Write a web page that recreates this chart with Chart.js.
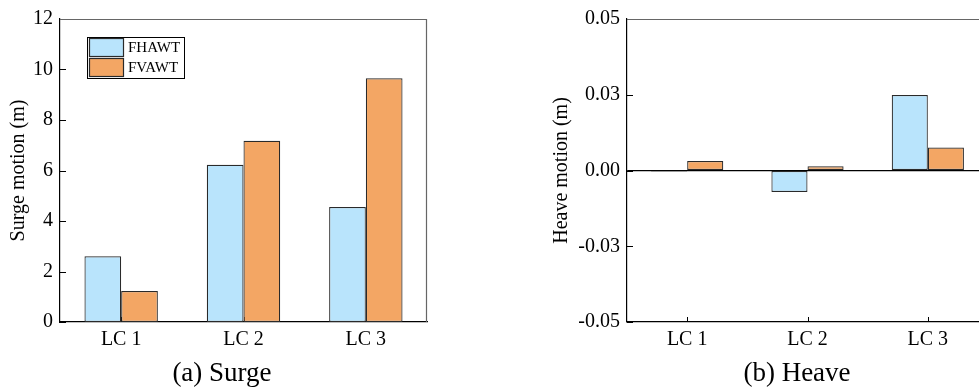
<!DOCTYPE html>
<html>
<head>
<meta charset="utf-8">
<script src="https://cdn.jsdelivr.net/npm/chart.js@4.4.0/dist/chart.umd.min.js"></script>
<style>
  html, body { margin:0; padding:0; background:#fff; width:979px; height:387px; overflow:hidden; }
  #wrap { position:relative; width:979px; height:387px; overflow:hidden; }
  canvas { position:absolute; top:0; }
  #c1 { left:0; }
  #c2 { left:540px; }
  .sub { position:absolute; font-family:'Liberation Serif', 'Times New Roman', serif; font-size:27px; color:#000; white-space:nowrap; line-height:27px; transform:translateX(-50%); }
</style>
</head>
<body>
<div id="wrap">
  <canvas id="c1" width="480" height="387"></canvas>
  <canvas id="c2" width="460" height="387"></canvas>
  <div class="sub" id="s1" style="left:222px; top:359px;">(a) Surge</div>
  <div class="sub" id="s2" style="left:797px; top:359px;">(b) Heave</div>
</div>
<script>
// ---- data ----
const categories = ['LC 1', 'LC 2', 'LC 3'];
const seriesNames = ['FHAWT', 'FVAWT'];
const surgeFHAWT = [2.60, 6.23, 4.55];
const surgeFVAWT = [1.23, 7.18, 9.65];
const heaveFHAWT = [-0.0003, -0.0071, 0.0249];
const heaveFVAWT = [0.0031, 0.0014, 0.0076];
const surgeTickValues = [0, 2, 4, 6, 8, 10, 12];
const heaveTickLabels = ['-0.05', '-0.03', '0.00', '0.03', '0.05'];

// ---- styles ----
const blueFill = '#B9E4FC';
const orangeFill = '#F3A664';
const barBorder = '#2a2a2a';

Chart.defaults.font.family = "'Liberation Serif', 'Times New Roman', serif";
Chart.defaults.color = '#000';

const framePlugin = {
  id: 'frame',
  beforeDatasetsDraw(chart) {
    const {ctx, chartArea: a, scales} = chart;
    ctx.save();
    ctx.strokeStyle = '#000';
    ctx.lineWidth = 1;
    const ys = scales.y;
    ys.ticks.forEach((t, i) => {
      const y = Math.round(ys.getPixelForTick(i)) + 0.5;
      ctx.beginPath(); ctx.moveTo(a.left, y); ctx.lineTo(a.left + 6, y); ctx.stroke();
    });
    const xs = scales.x;
    xs.ticks.forEach((t, i) => {
      const x = Math.round(xs.getPixelForTick(i)) + 0.5;
      ctx.beginPath(); ctx.moveTo(x, a.bottom); ctx.lineTo(x, a.bottom - 5); ctx.stroke();
    });
    ctx.restore();
  },
  afterDraw(chart) {
    const {ctx, chartArea: a} = chart;
    ctx.save();
    ctx.strokeStyle = '#666';
    ctx.lineWidth = 1.2;
    ctx.beginPath();
    ctx.moveTo(a.left, a.top + 0.5);
    ctx.lineTo(a.right - 0.5, a.top + 0.5);
    ctx.lineTo(a.right - 0.5, a.bottom);
    ctx.stroke();
    ctx.restore();
  }
};

const legendPlugin = {
  id: 'boxLegend',
  afterDraw(chart) {
    const {ctx} = chart;
    const x0 = 87, y0 = 37, w = 97, h = 41;
    ctx.save();
    ctx.fillStyle = '#fff';
    ctx.fillRect(x0, y0, w, h);
    ctx.strokeStyle = '#000';
    ctx.lineWidth = 1;
    ctx.strokeRect(x0 + 0.5, y0 + 0.5, w, h);
    chart.data.datasets.forEach((ds, i) => {
      const sy = 38.5 + i * 20;
      ctx.fillStyle = ds.backgroundColor;
      ctx.fillRect(89.5, sy, 34, 18);
      ctx.strokeStyle = ds.borderColor;
      ctx.lineWidth = 1.2;
      ctx.strokeRect(89.5, sy, 34, 18);
      ctx.fillStyle = '#000';
      ctx.font = "15px 'Liberation Serif', 'Times New Roman', serif";
      ctx.textBaseline = 'middle';
      ctx.textAlign = 'left';
      ctx.fillText(ds.label, 128, sy + 9.5);
    });
    ctx.restore();
  }
};

function makeDatasets(a, b) {
  return [
    { label: seriesNames[0], data: a, backgroundColor: blueFill, borderColor: barBorder, borderWidth: 1.2, borderSkipped: false, barPercentage: 1, categoryPercentage: 0.6 },
    { label: seriesNames[1], data: b, backgroundColor: orangeFill, borderColor: barBorder, borderWidth: 1.2, borderSkipped: false, barPercentage: 1, categoryPercentage: 0.6 }
  ];
}

new Chart(document.getElementById('c1'), {
  type: 'bar',
  data: { labels: categories, datasets: makeDatasets(surgeFHAWT, surgeFVAWT) },
  options: {
    responsive: false, animation: false,
    layout: { padding: { left: 0, top: 17, right: 53, bottom: 0 } },
    plugins: { legend: { display: false }, tooltip: { enabled: false } },
    scales: {
      x: {
        grid: { display: false, drawTicks: false },
        border: { display: true, color: '#000', width: 1.2 },
        ticks: { font: { size: 20 }, padding: 6, color: '#000' },
        afterFit(s) { s.height = 65; }
      },
      y: {
        min: 0, max: 12,
        afterBuildTicks(s) { s.ticks = surgeTickValues.map(v => ({ value: v })); },
        grid: { display: false, drawTicks: false },
        border: { display: true, color: '#000', width: 1.2 },
        ticks: { font: { size: 20 }, padding: 7, color: '#000' },
        title: { display: true, text: 'Surge motion (m)', font: { size: 20 }, padding: { top: 7, bottom: 0 }, color: '#000' },
        afterFit(s) { s.width = 60; }
      }
    }
  },
  plugins: [framePlugin, legendPlugin]
});

new Chart(document.getElementById('c2'), {
  type: 'bar',
  data: { labels: categories, datasets: makeDatasets(heaveFHAWT, heaveFVAWT) },
  options: {
    responsive: false, animation: false,
    layout: { padding: { left: 0, top: 17, right: 12, bottom: 0 } },
    plugins: { legend: { display: false }, tooltip: { enabled: false } },
    scales: {
      x: {
        grid: { display: false, drawTicks: false },
        border: { display: true, color: '#000', width: 1.2 },
        ticks: { font: { size: 20 }, padding: 6, color: '#000' },
        afterFit(s) { s.height = 65; }
      },
      y: {
        min: -0.05, max: 0.05,
        ticks: { stepSize: 0.025, font: { size: 20 }, padding: 7, color: '#000',
          callback: (v, i) => heaveTickLabels[i] },
        grid: { display: true, drawTicks: false,
          color: ctx => (ctx.tick && Math.abs(ctx.tick.value) < 1e-9) ? '#000' : 'rgba(0,0,0,0)',
          lineWidth: 1.2 },
        border: { display: true, color: '#000', width: 1.2 },
        title: { display: true, text: 'Heave motion (m)', font: { size: 20 }, padding: { top: 10, bottom: 0 }, color: '#000' },
        afterFit(s) { s.width = 87; }
      }
    }
  },
  plugins: [framePlugin]
});
</script>
</body>
</html>
